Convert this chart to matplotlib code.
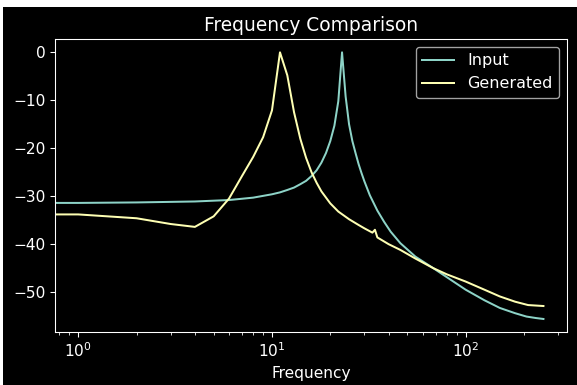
import numpy as np
import matplotlib
matplotlib.use("Agg")
import matplotlib.pyplot as plt
from matplotlib.patches import Rectangle

# values (dB, peak normalised to 0)
input_freq = [0, 1, 2, 4, 6, 8, 10, 11, 12, 13, 14, 15, 16, 17, 18, 19, 20, 21, 22, 23,
              24, 25, 26, 27, 28, 29, 30, 32, 35, 38, 41, 46, 55, 68, 80, 100, 125, 150,
              180, 206, 230, 252]
input_db = [-31.4, -31.4, -31.3, -31.1, -30.8, -30.3, -29.6, -29.2, -28.7, -28.2, -27.5,
            -26.8, -25.8, -24.6, -23.0, -21.0, -18.5, -15.3, -10.2, 0.0, -9.2, -15.0,
            -18.5, -21.0, -23.3, -25.2, -26.9, -29.8, -33.0, -35.4, -37.4, -39.8, -42.6,
            -45.0, -46.9, -49.5, -51.7, -53.3, -54.4, -55.1, -55.4, -55.6]

gen_freq = [0, 1, 2, 3, 4, 5, 6, 7, 8, 9, 10, 11, 12, 13, 14, 15, 16, 17, 18, 20, 22,
            25, 28, 30, 33, 34, 35, 40, 46, 55, 68, 80, 100, 125, 150, 180, 210, 252]
gen_db = [-33.8, -33.8, -34.6, -35.8, -36.4, -34.2, -30.5, -25.8, -21.8, -17.7, -12.1,
          0.0, -4.8, -12.5, -18.0, -22.0, -25.0, -27.2, -29.0, -31.5, -33.2, -34.8,
          -36.0, -36.7, -37.6, -37.0, -38.6, -40.0, -41.2, -43.0, -45.0, -46.3, -47.8,
          -49.5, -50.9, -52.0, -52.7, -52.9]

plt.style.use("dark_background")
plt.rcParams["xtick.labelsize"] = 11.5
plt.rcParams["ytick.labelsize"] = 11.5

fig = plt.figure(figsize=(577 / 96, 385 / 96), dpi=96, facecolor="white")
# black canvas with a thin white strip on top and left, like the reference
fig.add_artist(Rectangle((3 / 577, 0), 1, 1 - 7 / 385, transform=fig.transFigure,
                         facecolor="black", edgecolor="none", zorder=-10))
ax = fig.add_axes([55 / 577, 1 - 332.3 / 385, (566.7 - 55) / 577, (332.3 - 39) / 385])

ax.plot(input_freq, input_db, label="Input")
ax.plot(gen_freq, gen_db, label="Generated")
ax.set_xscale("log")
ax.set_title("Frequency Comparison", fontsize=14)
ax.set_xlabel("Frequency", fontsize=11.5)
ax.legend(loc="upper right", fontsize=12)

fig.savefig("out.png", dpi=96, facecolor=fig.get_facecolor())
